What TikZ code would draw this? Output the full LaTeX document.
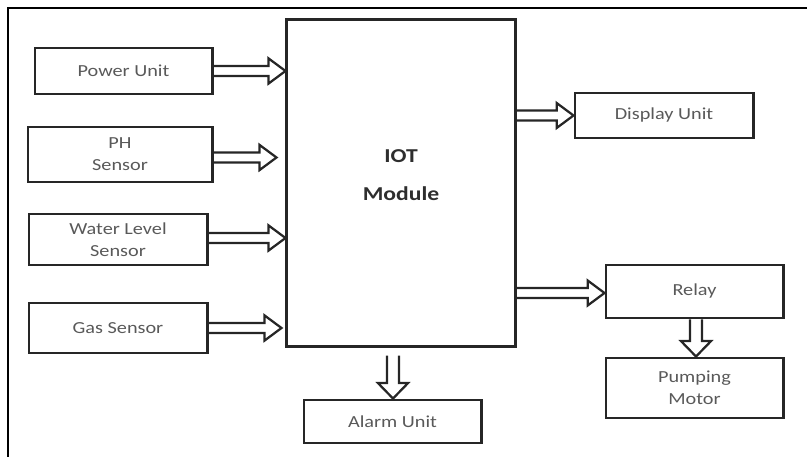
\documentclass[tikz,border=0pt]{standalone}
\usepackage{fontspec}
\setmainfont{Carlito}[FakeStretch=1.2]
\usetikzlibrary{calc}

\begin{document}
\begin{tikzpicture}[x=0.025cm,y=-0.025cm,
  block/.style={draw=black!85,line width=2.1pt,align=center,inner sep=0pt,
    text=black!65,font=\fontsize{12}{15.6}\selectfont},
  rarrow/.style={draw=black!85,line width=1.6pt,to path={let \p1=(\tikztostart),\p2=(\tikztotarget) in
    (\x1,\y1+3.6pt) -- (\x2-12pt,\y1+3.6pt) -- (\x2-12pt,\y1+8.9pt) -- (\x2,\y1)
    -- (\x2-12pt,\y1-8.9pt) -- (\x2-12pt,\y1-3.6pt) -- (\x1,\y1-3.6pt)}},
  darrow/.style={draw=black!85,line width=1.6pt,to path={let \p1=(\tikztostart),\p2=(\tikztotarget) in
    (\x1-4.3pt,\y1) -- (\x1-4.3pt,\y2+11pt) -- (\x1-10.7pt,\y2+11pt) -- (\x2,\y2)
    -- (\x1+10.7pt,\y2+11pt) -- (\x1+4.3pt,\y2+11pt) -- (\x1+4.3pt,\y1)}}]
\useasboundingbox (0,0) rectangle (807,457);
\draw [line width=1.8pt] (8,457) -- (8,8) -- (807,8);

\node [block,minimum width=4.425cm,minimum height=1.15cm] (pwr) at (123.5,71) {Power Unit};
\node [block,minimum width=4.6cm,minimum height=1.375cm] (ph) at (120,154.5) {PH\\Sensor};
\node [block,minimum width=4.45cm,minimum height=1.275cm] (wls) at (118,239.5) {Water Level\\Sensor};
\node [block,minimum width=4.45cm,minimum height=1.25cm] (gas) at (118,328) {Gas Sensor};
\node [block,minimum width=5.7cm,minimum height=8.15cm,text=black!82,text depth=11.5pt,
  font=\fontsize{14}{27}\selectfont\bfseries] (iot) at (401,183) {IOT\\Module};
\node [block,minimum width=4.45cm,minimum height=1.125cm] (disp) at (664,115.5) {Display Unit};
\node [block,minimum width=4.425cm,minimum height=1.325cm] (relay) at (694.5,291.5) {Relay};
\node [block,minimum width=4.425cm,minimum height=1.5cm] (pump) at (694.5,388) {Pumping\\Motor};
\node [block,minimum width=4.425cm,minimum height=1.075cm] (alarm) at (392.5,421.5) {Alarm Unit};

\draw [rarrow] (pwr.east) to (pwr.east -| iot.west);
\draw [rarrow] ($(ph.east)+(0,3)$) to ($(ph.east -| iot.west)+(-9,3)$);
\draw [rarrow] ($(wls.east)+(0,-1.5)$) to ($(wls.east -| iot.west)+(0,-1.5)$);
\draw [rarrow] (gas.east) to ($(gas.east -| iot.west)+(-4,0)$);
\draw [rarrow] (iot.east |- disp.west) to (disp.west);
\draw [rarrow] ($(iot.east |- relay.west)+(0,1.5)$) to ($(relay.west)+(0,1.5)$);
\draw [darrow] ($(relay.south)+(1.5,0)$) to ($(pump.north)+(1.5,0)$);
\draw [darrow] ($(alarm.north |- iot.south)+(0.5,8)$) to ($(alarm.north)+(0.5,0)$);
\end{tikzpicture}
\end{document}
